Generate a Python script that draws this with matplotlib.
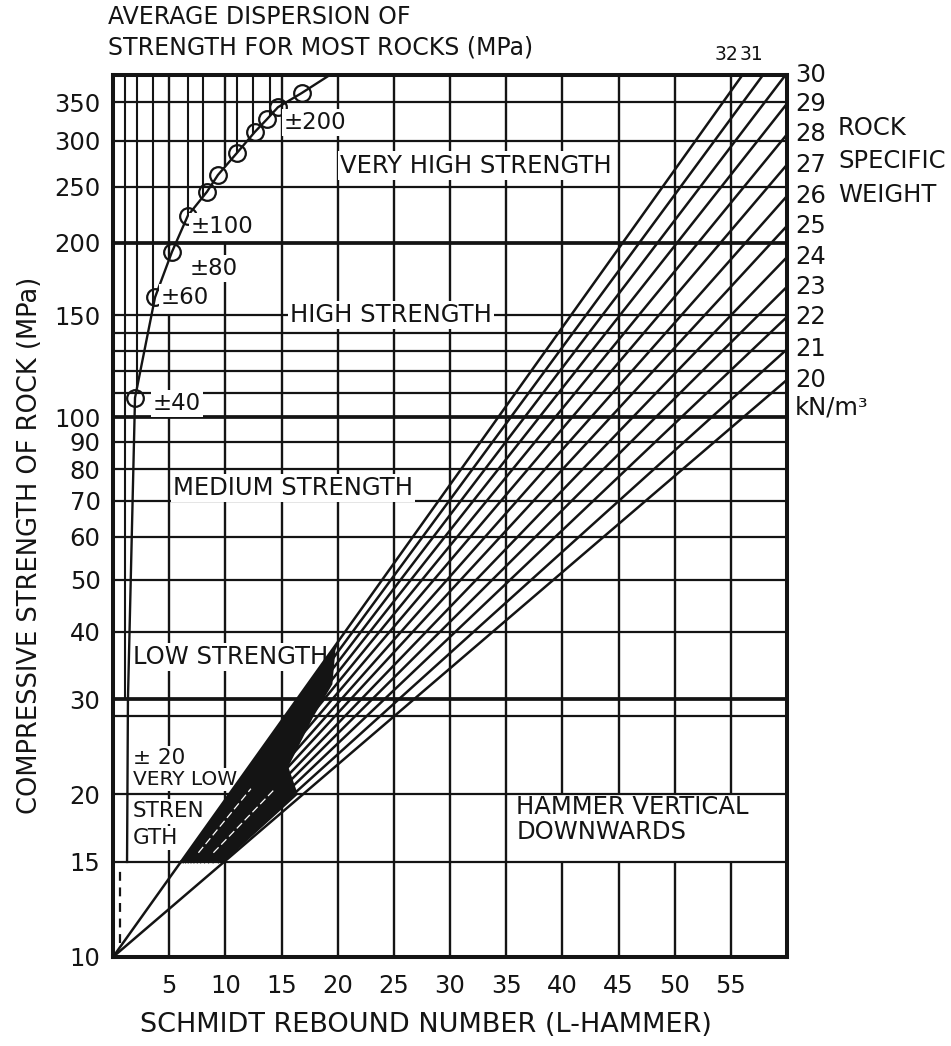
import numpy as np
import matplotlib.pyplot as plt
from matplotlib.ticker import NullLocator

# rock specific weight lines (kN/m3) and the strength each one reaches at R = 60
densities = [20, 21, 22, 23, 24, 25, 26, 27, 28, 29, 30, 31, 32]
strength_at_60 = [116, 131, 149, 168, 189, 214, 241, 273, 308, 348, 393, 444, 500]

# average dispersion curve: rebound number vs strength (MPa)
disp_rebound = [1.25, 1.33, 1.96, 3.74, 5.25, 6.67, 8.36, 9.34, 11.03, 12.63, 13.70, 14.68, 16.8, 19.3]
disp_strength = [15, 30, 108, 161, 193, 223, 245, 262, 286, 311, 327, 343, 363, 390]
circle_first, circle_last = 2, 12
disp_labels = ['±40', '±60', '±80', '±100', '±200']
disp_label_idx = [2, 3, 4, 5, 10]

# inked wedge where the weight lines crowd together
wedge_strength = [15, 20, 22.5, 27.8, 32, 37, 39]
wedge_density = [20, 20.5, 25, 27.5, 28.5, 31.5, 32]

# axes ticks and grid
x_ticks = [5, 10, 15, 20, 25, 30, 35, 40, 45, 50, 55]
y_ticks = [10, 15, 20, 30, 40, 50, 60, 70, 80, 90, 100, 150, 200, 250, 300, 350]
h_grid = [15, 20, 28, 30, 40, 50, 60, 70, 80, 90, 100, 110, 120, 130, 140, 150, 200, 250, 300, 350]
heavy_h = [30, 100, 200]
fine_x = [1.1, 2.1, 3.6, 6.7, 8.0, 11.0, 12.5, 14.0]

INK = '#141414'
TOP = 390
FS = 17.5

# the strength axis is logarithmic, a little stretched above 100 MPa
hi_stretch = 1.072


def to_axis(v):
    lv = np.log10(np.maximum(v, 1e-6))
    return np.where(lv > 2, 2 + (lv - 2) * hi_stretch, lv)


def from_axis(u):
    return np.where(u > 2, 10 ** (2 + (u - 2) / hi_stretch), 10 ** u)


def rebound_on_line(end_strength, s):
    # rebound number where a straight weight line (from R=0, 10 MPa) reaches strength s
    return 60 * (to_axis(s) - to_axis(10)) / (to_axis(end_strength) - to_axis(10))


fig = plt.figure(figsize=(9.51, 10.46), dpi=100)
ax = fig.add_axes([113 / 951, 89 / 1046, 674 / 951, 882 / 1046])
ax.set_yscale('function', functions=(to_axis, from_axis))
ax.set_xlim(0, 60)
ax.set_ylim(10, TOP)

# horizontal grid
for h in h_grid:
    ax.axhline(h, color=INK, lw=2.7 if h in heavy_h else 1.6, zorder=1)

# vertical grid, with gaps where the dispersion curve and the hammer note sit
curve_at = lambda r: float(np.interp(r, disp_rebound, disp_strength))
for r in range(5, 60, 5):
    if r == 5:
        segs = [(10, 150), (curve_at(r), TOP)]
    elif r == 10:
        segs = [(10, 200), (curve_at(r), TOP)]
    elif r >= 40:
        segs = [(10, 15), (20, TOP)]
    else:
        segs = [(10, TOP)]
    for lo, hi in segs:
        ax.vlines(r, lo, hi, color=INK, lw=1.7, zorder=1)
for r in fine_x:
    lo = 30 if r < disp_rebound[2] else curve_at(r)
    ax.vlines(r, lo, TOP, color=INK, lw=1.5, zorder=1)

# weight lines, fanning out from 15 MPa (drawn over the class labels)
log_end = np.log10(strength_at_60)
for g, s_end in zip(densities, strength_at_60):
    r15 = rebound_on_line(s_end, 15)
    ax.plot([r15, 60], [15, s_end], color=INK, lw=1.8, zorder=4.5)
# the two outer lines run down to the origin
for s_end in (strength_at_60[0], strength_at_60[-1]):
    ax.plot([0, rebound_on_line(s_end, 15)], [10, 15], color=INK, lw=1.8, zorder=4.5)

# solid inked wedge
right_end = 10 ** np.interp(wedge_density, densities, log_end)
left_x = [rebound_on_line(strength_at_60[-1], s) for s in wedge_strength]
right_x = [rebound_on_line(e, s) for e, s in zip(right_end, wedge_strength)]
ax.fill(left_x + right_x[::-1], wedge_strength + wedge_strength[::-1],
        color=INK, lw=0, zorder=4.6)
for g in (24, 28):
    e = strength_at_60[densities.index(g)]
    ax.plot([rebound_on_line(e, 15.6), rebound_on_line(e, 20.5)], [15.6, 20.5],
            color='white', lw=0.9, ls=(0, (6, 3)), zorder=4.7)

# dispersion curve
ax.plot(disp_rebound, disp_strength, color=INK, lw=1.7, zorder=3, clip_on=False)
ax.plot(disp_rebound[circle_first:circle_last + 1], disp_strength[circle_first:circle_last + 1],
        ls='none', marker='o', ms=12, mfc='none', mec=INK, mew=1.6, zorder=3)
ax.plot([0.62, 0.62], [10.6, 14.6], color=INK, lw=1.6, ls=(0, (4, 3)), zorder=3)

box = dict(facecolor='white', edgecolor='none', pad=1.5)
offsets = [(13, -4), (4, 0), (13, -12), (2, -8), (12, -2)]
for txt, i, off in zip(disp_labels, disp_label_idx, offsets):
    ax.annotate(txt, (disp_rebound[i], disp_strength[i]), xytext=off, textcoords='offset points',
                fontsize=FS - 1, ha='left', va='center', color=INK, bbox=box, zorder=4)

# strength classes
ax.text(20.2, 272, 'VERY HIGH STRENGTH', fontsize=FS, va='center', color=INK, bbox=box, zorder=4)
ax.text(15.75, 150, 'HIGH STRENGTH', fontsize=FS, va='center', color=INK, bbox=box, zorder=4)
ax.text(5.34, 74, 'MEDIUM STRENGTH', fontsize=FS, va='center', color=INK, bbox=box, zorder=4)
ax.text(1.78, 35.9, 'LOW STRENGTH', fontsize=FS, va='center', color=INK, bbox=box, zorder=4)
ax.text(1.78, 23.4, '± 20', fontsize=FS - 2, va='center', color=INK, bbox=box, zorder=4)
ax.text(1.78, 21.3, 'VERY LOW', fontsize=FS - 3, va='center', color=INK, bbox=box, zorder=4)
ax.text(1.78, 18.6, 'STREN', fontsize=FS - 2, va='center', color=INK, bbox=box, zorder=4)
ax.text(1.78, 16.6, 'GTH', fontsize=FS - 2, va='center', color=INK, bbox=box, zorder=4)
ax.text(35.9, 18.0, 'HAMMER VERTICAL\nDOWNWARDS', fontsize=FS, va='center', color=INK,
        linespacing=1.05, zorder=4)

# weight labels on the right and top
for g, s_end in zip(densities, strength_at_60):
    if s_end <= TOP + 5:
        ax.text(1.012, min(s_end, TOP), str(g), transform=ax.get_yaxis_transform(),
                fontsize=FS, va='center', ha='left', color=INK, clip_on=False)
    else:
        r_top = rebound_on_line(s_end, TOP)
        ax.text(r_top - (0.35 if g == 32 else 0.0), 1.012, str(g),
                transform=ax.get_xaxis_transform(), fontsize=13.5, va='bottom', ha='right', color=INK)
ax.text(1.012, 104, 'kN/m³', transform=ax.get_yaxis_transform(), fontsize=FS,
        va='center', ha='left', color=INK)

# axes styling
ax.set_xticks(x_ticks)
ax.set_xticklabels([str(v) for v in x_ticks])
ax.set_yticks(y_ticks)
ax.set_yticklabels([str(v) for v in y_ticks])
ax.yaxis.set_minor_locator(NullLocator())
ax.xaxis.set_minor_locator(NullLocator())
ax.tick_params(axis='both', length=0, labelsize=FS, colors=INK)
ax.tick_params(axis='x', pad=12)
ax.tick_params(axis='y', pad=9)
for sp in ax.spines.values():
    sp.set_linewidth(2.9)
    sp.set_color(INK)
    sp.set_zorder(5)

fig.text(108 / 951, 1 - 17 / 1046, 'AVERAGE DISPERSION OF', fontsize=17, va='center', color=INK)
fig.text(108 / 951, 1 - 47 / 1046, 'STRENGTH FOR MOST ROCKS (MPa)', fontsize=17, va='center', color=INK)
fig.text(838 / 951, 1 - 128 / 1046, 'ROCK', fontsize=FS, va='center', color=INK)
fig.text(838 / 951, 1 - 161 / 1046, 'SPECIFIC', fontsize=FS, va='center', color=INK)
fig.text(838 / 951, 1 - 195 / 1046, 'WEIGHT', fontsize=FS, va='center', color=INK)
fig.text(30 / 951, 1 - 545 / 1046, 'COMPRESSIVE STRENGTH OF ROCK (MPa)', fontsize=18.5,
         rotation=90, va='center', ha='center', color=INK)
fig.text(426 / 951, 1 - 1025 / 1046, 'SCHMIDT REBOUND NUMBER (L-HAMMER)', fontsize=19.5,
         va='center', ha='center', color=INK)

fig.savefig('out.png', dpi=100, facecolor='white')
